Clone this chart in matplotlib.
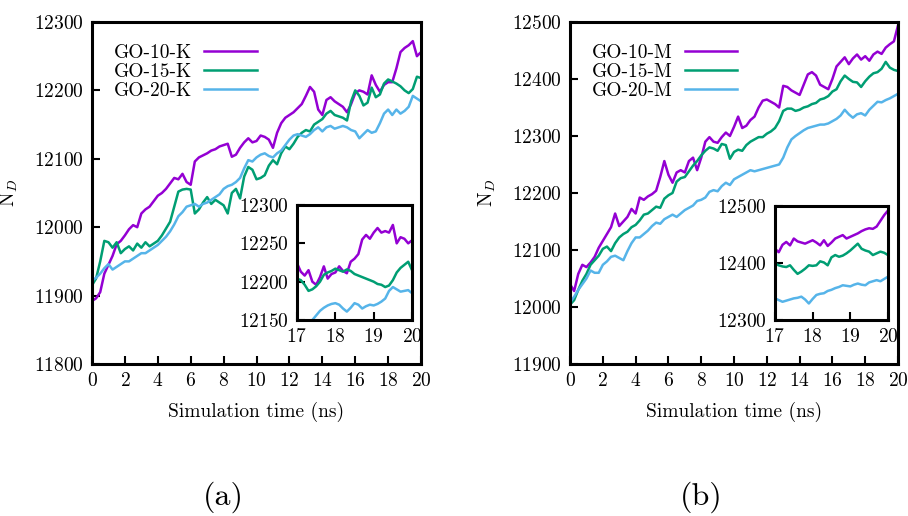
import numpy as np
import matplotlib
matplotlib.use('Agg')
import matplotlib.pyplot as plt

plt.rcParams['font.family'] = 'serif'
plt.rcParams['font.serif'] = ['cmr10']
plt.rcParams['mathtext.fontset'] = 'cm'
plt.rcParams['axes.formatter.use_mathtext'] = True
plt.rcParams['axes.unicode_minus'] = False

# main traces sampled every 0.25 ns, inset traces every 0.1 ns (17-20 ns)
time = np.linspace(0, 20, 81)
timeZoom = np.linspace(17, 20, 31)

labelsK = ['GO-10-K', 'GO-15-K', 'GO-20-K']
labelsM = ['GO-10-M', 'GO-15-M', 'GO-20-M']

go10K = [11892, 11896, 11905, 11932, 11945, 11958, 11975, 11980, 11988, 11997,
         12003, 12000, 12020, 12026, 12030, 12038, 12046, 12050, 12056, 12064,
         12072, 12070, 12078, 12066, 12062, 12096, 12102, 12105, 12108, 12112,
         12114, 12118, 12120, 12122, 12103, 12106, 12116, 12124, 12130, 12124,
         12126, 12134, 12132, 12128, 12116, 12138, 12152, 12160, 12164, 12168,
         12174, 12180, 12192, 12205, 12198, 12172, 12164, 12186, 12190, 12184,
         12180, 12176, 12168, 12180, 12196, 12200, 12198, 12194, 12222, 12208,
         12198, 12208, 12212, 12212, 12232, 12256, 12262, 12266, 12272, 12250,
         12256]
go15K = [11915, 11925, 11950, 11980, 11978, 11970, 11978, 11962, 11968, 11972,
         11966, 11976, 11970, 11978, 11972, 11976, 11980, 11988, 11998, 12008,
         12030, 12052, 12055, 12056, 12055, 12020, 12026, 12036, 12044, 12034,
         12040, 12036, 12032, 12020, 12050, 12056, 12042, 12074, 12088, 12084,
         12070, 12072, 12076, 12090, 12098, 12092, 12108, 12118, 12114, 12122,
         12132, 12138, 12142, 12140, 12150, 12154, 12158, 12166, 12170, 12164,
         12162, 12160, 12156, 12184, 12200, 12192, 12178, 12182, 12204, 12190,
         12194, 12210, 12216, 12213, 12210, 12206, 12200, 12196, 12202, 12220,
         12218]
go20K = [11922, 11926, 11932, 11940, 11946, 11938, 11942, 11946, 11950, 11950,
         11954, 11958, 11962, 11962, 11966, 11970, 11974, 11980, 11986, 11994,
         12004, 12016, 12022, 12030, 12032, 12034, 12030, 12034, 12036, 12040,
         12044, 12048, 12056, 12060, 12062, 12066, 12072, 12086, 12098, 12096,
         12102, 12106, 12108, 12104, 12102, 12108, 12112, 12120, 12128, 12134,
         12136, 12134, 12132, 12136, 12142, 12146, 12140, 12146, 12148, 12144,
         12146, 12148, 12146, 12142, 12140, 12130, 12136, 12142, 12138, 12140,
         12152, 12166, 12172, 12164, 12172, 12166, 12170, 12176, 12192, 12188,
         12184]

go10KZoom = [12224, 12213, 12208, 12215, 12200, 12196, 12206, 12220, 12204, 12210,
             12212, 12220, 12214, 12211, 12226, 12230, 12236, 12255, 12261, 12256,
             12264, 12270, 12264, 12266, 12264, 12274, 12250, 12258, 12256, 12250,
             12254]
go15KZoom = [12204, 12202, 12196, 12188, 12190, 12194, 12200, 12209, 12212, 12214,
             12217, 12215, 12213, 12216, 12214, 12210, 12208, 12206, 12204, 12202,
             12200, 12197, 12196, 12193, 12195, 12202, 12212, 12218, 12222, 12226,
             12215]
go20KZoom = [12136, 12138, 12140, 12144, 12150, 12156, 12162, 12166, 12169, 12171,
             12172, 12170, 12165, 12161, 12166, 12172, 12170, 12165, 12168, 12170,
             12169, 12171, 12174, 12178, 12188, 12193, 12190, 12187, 12188, 12189,
             12185]

go10M = [12040, 12028, 12058, 12074, 12070, 12078, 12088, 12104, 12116, 12128,
         12140, 12164, 12142, 12150, 12158, 12172, 12164, 12192, 12188, 12194,
         12198, 12204, 12228, 12256, 12232, 12218, 12236, 12240, 12236, 12256,
         12262, 12240, 12262, 12290, 12298, 12290, 12288, 12298, 12306, 12300,
         12316, 12334, 12314, 12318, 12328, 12334, 12350, 12362, 12364, 12360,
         12356, 12350, 12388, 12386, 12380, 12376, 12372, 12390, 12408, 12412,
         12406, 12390, 12386, 12382, 12400, 12422, 12430, 12438, 12426, 12436,
         12443, 12434, 12440, 12432, 12443, 12448, 12444, 12455, 12461, 12466,
         12494]
go15M = [12004, 12012, 12030, 12046, 12058, 12074, 12082, 12090, 12102, 12106,
         12098, 12112, 12122, 12128, 12132, 12140, 12144, 12152, 12162, 12164,
         12170, 12176, 12174, 12190, 12196, 12200, 12220, 12226, 12228, 12238,
         12248, 12256, 12266, 12274, 12280, 12278, 12274, 12286, 12284, 12260,
         12272, 12276, 12274, 12284, 12290, 12294, 12298, 12298, 12304, 12308,
         12314, 12326, 12344, 12348, 12348, 12344, 12346, 12350, 12352, 12356,
         12358, 12364, 12366, 12370, 12378, 12382, 12396, 12406, 12400, 12395,
         12394, 12386, 12396, 12404, 12410, 12412, 12418, 12430, 12420, 12416,
         12414]
go20M = [12008, 12018, 12030, 12040, 12050, 12064, 12060, 12060, 12074, 12080,
         12088, 12090, 12086, 12082, 12098, 12112, 12122, 12122, 12128, 12134,
         12142, 12148, 12146, 12154, 12158, 12162, 12158, 12164, 12170, 12174,
         12178, 12186, 12188, 12192, 12202, 12205, 12203, 12212, 12218, 12214,
         12224, 12228, 12232, 12236, 12240, 12238, 12240, 12242, 12244, 12246,
         12248, 12250, 12262, 12280, 12294, 12300, 12305, 12310, 12314, 12316,
         12318, 12320, 12320, 12322, 12326, 12330, 12336, 12346, 12338, 12332,
         12338, 12340, 12336, 12346, 12353, 12360, 12359, 12363, 12366, 12370,
         12374]

go10MZoom = [12425, 12419, 12432, 12437, 12431, 12443, 12438, 12436, 12434, 12437,
             12440, 12436, 12431, 12440, 12430, 12436, 12443, 12446, 12449, 12443,
             12446, 12449, 12452, 12456, 12459, 12461, 12460, 12464, 12474, 12484,
             12492]
go15MZoom = [12399, 12396, 12394, 12393, 12396, 12388, 12381, 12385, 12390, 12396,
             12395, 12396, 12403, 12401, 12396, 12410, 12414, 12411, 12413, 12417,
             12422, 12428, 12434, 12425, 12422, 12420, 12414, 12417, 12420, 12418,
             12414]
go20MZoom = [12338, 12335, 12332, 12334, 12336, 12338, 12339, 12341, 12336, 12329,
             12337, 12344, 12346, 12347, 12351, 12353, 12356, 12358, 12361, 12360,
             12359, 12362, 12364, 12362, 12361, 12366, 12368, 12370, 12368, 12372,
             12376]

colors = ['#9400d3', '#009e73', '#56b4e9']
fs = 14


def style(ax, lw=2.2):
    for s in ax.spines.values():
        s.set_linewidth(lw)
    ax.tick_params(direction='in', length=6, width=1.5, labelsize=fs,
                   top=False, right=False, pad=6)


def panel(rect, insetRect, series, zoomSeries, labels, ylim, yticks, zylim, zyticks, tag):
    ax = fig.add_axes(rect)
    for y, lab, c in zip(series, labels, colors):
        ax.plot(time, y, color=c, lw=1.8, label=lab)
    ax.set_xlim(0, 20)
    ax.set_ylim(*ylim)
    ax.set_xticks(range(0, 21, 2))
    ax.set_yticks(yticks)
    ax.set_xlabel('Simulation time (ns)', fontsize=fs, labelpad=8)
    ax.set_ylabel(r'N$_D$', fontsize=fs, labelpad=10)
    style(ax)
    ax.legend(loc='upper left', frameon=False, markerfirst=False, fontsize=fs,
              handlelength=2.7, handletextpad=0.6, labelspacing=0.05,
              borderaxespad=0.4, bbox_to_anchor=(0.02, 0.98))
    ax.text(0.40, -0.39, tag, transform=ax.transAxes, ha='center', va='center', fontsize=23)

    ins = fig.add_axes(insetRect)
    for y, c in zip(zoomSeries, colors):
        ins.plot(timeZoom, y, color=c, lw=1.8)
    ins.set_xlim(17, 20)
    ins.set_ylim(*zylim)
    ins.set_xticks([17, 18, 19, 20])
    ins.set_yticks(zyticks)
    style(ins)
    return ax


fig = plt.figure(figsize=(9.08, 5.16), dpi=100)

panel([0.1013, 0.2946, 0.3624, 0.6628], [0.3271, 0.3798, 0.1267, 0.2229],
      [go10K, go15K, go20K], [go10KZoom, go15KZoom, go20KZoom], labelsK,
      (11800, 12300), range(11800, 12301, 100), (12150, 12300), [12150, 12200, 12250, 12300], '(a)')
panel([0.6278, 0.2946, 0.3612, 0.6628], [0.8535, 0.3798, 0.1244, 0.2209],
      [go10M, go15M, go20M], [go10MZoom, go15MZoom, go20MZoom], labelsM,
      (11900, 12500), range(11900, 12501, 100), (12300, 12500), [12300, 12400, 12500], '(b)')

fig.savefig('out.png', dpi=100)
